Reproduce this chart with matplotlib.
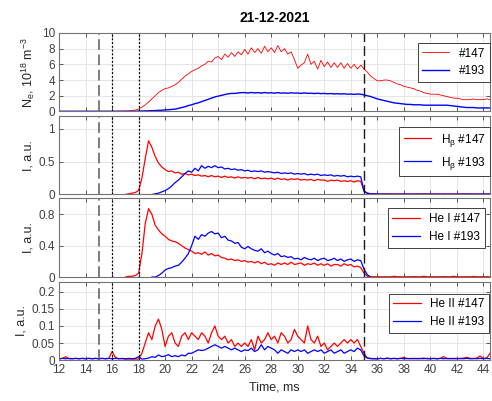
import numpy as np
from matplotlib import pyplot as plt

plt.rcParams['font.family'] = ['Liberation Sans', 'DejaVu Sans']
plt.rcParams['mathtext.default'] = 'regular'
plt.rcParams['font.size'] = 8

nan = np.nan
# time base, ms (0.25 ms step)
time_ms = np.round(np.arange(12, 44.51, 0.25), 2)

# electron density, 1e18 m^-3
ne147 = ([0.02]*12 +
         [0.02, 0.02, 0.03, 0.03, 0.03, 0.03, 0.04, 0.05, 0.06, 0.08, 0.12, 0.18,
          0.30, 0.55, 0.85, 1.20, 1.60, 2.00, 2.40, 2.70, 2.90, 3.00, 3.20, 3.40,
          3.70, 4.10, 4.50, 4.80, 5.10, 5.30, 5.50, 5.80, 6.00, 6.40, 6.30, 6.80,
          7.00, 6.60, 7.30, 6.90, 7.50, 7.00, 7.60, 7.20, 7.90, 7.30, 8.10, 7.50,
          8.00, 7.40, 8.30, 7.60, 8.10, 7.50, 8.40, 7.60, 8.00, 7.30, 7.60, 6.60,
          5.50, 5.90, 6.20, 7.30, 6.00, 6.40, 5.40, 6.50, 5.70, 6.30, 5.60, 6.20,
          5.60, 6.20, 5.50, 6.10, 5.50, 6.00, 5.40, 5.90, 5.40, 5.00, 4.50, 4.20,
          3.90, 3.90, 4.00, 4.00, 3.90, 3.70, 3.50, 3.40, 3.20, 3.10, 3.00, 2.90,
          2.70, 2.60, 2.40, 2.30, 2.20, 2.20, 2.20, 2.10, 2.00, 1.90, 1.80, 1.70,
          1.70, 1.60, 1.50, 1.50, 1.50, 1.60, 1.50, 1.50, 1.50, 1.60, 1.50])
ne193 = ([0.02]*24 +
         [0.05, 0.06, 0.07, 0.08, 0.10, 0.12, 0.14, 0.16, 0.20, 0.22, 0.26, 0.30,
          0.40, 0.50, 0.60, 0.75, 0.85, 1.00, 1.10, 1.25, 1.40, 1.55, 1.70, 1.85,
          1.95, 2.05, 2.15, 2.25, 2.30, 2.30, 2.35, 2.40, 2.40, 2.35, 2.42, 2.36,
          2.40, 2.34, 2.41, 2.35, 2.38, 2.33, 2.40, 2.34, 2.36, 2.32, 2.38, 2.33,
          2.35, 2.30, 2.36, 2.31, 2.33, 2.28, 2.32, 2.27, 2.30, 2.25, 2.28, 2.23,
          2.26, 2.22, 2.25, 2.20, 2.22, 2.18, 2.22, 2.20, 2.10, 2.00, 1.90, 1.75,
          1.60, 1.50, 1.40, 1.30, 1.20, 1.10, 1.05, 1.00, 0.95, 0.90, 0.90, 0.85,
          0.85, 0.85, 0.80, 0.80, 0.80, 0.80, 0.80, 0.80, 0.80, 0.80, 0.75, 0.70,
          0.65, 0.60, 0.55, 0.50, 0.50, 0.50, 0.45, 0.45, 0.45, 0.45, 0.45])

# H-beta intensity, a.u.
hb147 = ([nan]*20 +
         [0.00, 0.01, 0.02, 0.03, 0.06, 0.25, 0.55, 0.82, 0.72, 0.58, 0.48, 0.42,
          0.38, 0.35, 0.36, 0.33, 0.34, 0.31, 0.32, 0.30, 0.31, 0.29, 0.30, 0.28,
          0.29, 0.27, 0.29, 0.27, 0.28, 0.26, 0.28, 0.26, 0.27, 0.25, 0.27, 0.25,
          0.26, 0.25, 0.26, 0.24, 0.26, 0.24, 0.25, 0.24, 0.25, 0.23, 0.25, 0.23,
          0.24, 0.22, 0.24, 0.23, 0.24, 0.22, 0.23, 0.22, 0.23, 0.21, 0.23, 0.22,
          0.22, 0.20, 0.22, 0.21, 0.22, 0.20, 0.21, 0.20, 0.21, 0.19, 0.21, 0.20,
          0.05, 0.02, 0.01, 0.01] +
         [0.010, 0.005]*17 + [0.010])
hb193 = ([nan]*28 +
         [0.00, 0.01, 0.02, 0.04, 0.06, 0.09, 0.13, 0.18, 0.22, 0.27, 0.32, 0.36,
          0.34, 0.40, 0.36, 0.44, 0.40, 0.43, 0.41, 0.44, 0.41, 0.42, 0.39, 0.40,
          0.38, 0.39, 0.37, 0.38, 0.36, 0.37, 0.35, 0.36, 0.35, 0.36, 0.34, 0.35,
          0.34, 0.33, 0.34, 0.32, 0.33, 0.32, 0.33, 0.31, 0.32, 0.31, 0.32, 0.30,
          0.31, 0.30, 0.31, 0.29, 0.30, 0.29, 0.30, 0.28, 0.29, 0.28, 0.29, 0.27,
          0.28, 0.27, 0.28, 0.27, 0.05, 0.02, 0.01, 0.01] +
         [0.005, 0.007]*17 + [0.005])

# He I intensity, a.u.
he1_147 = ([nan]*20 +
           [0.00, 0.01, 0.01, 0.02, 0.05, 0.30, 0.68, 0.87, 0.80, 0.66, 0.60, 0.55,
            0.52, 0.48, 0.46, 0.45, 0.43, 0.40, 0.37, 0.35, 0.33, 0.30, 0.31, 0.29,
            0.32, 0.28, 0.30, 0.27, 0.28, 0.25, 0.24, 0.22, 0.23, 0.21, 0.22, 0.20,
            0.21, 0.19, 0.20, 0.18, 0.20, 0.17, 0.19, 0.16, 0.17, 0.15, 0.18, 0.16,
            0.18, 0.16, 0.19, 0.16, 0.17, 0.18, 0.15, 0.17, 0.16, 0.18, 0.15, 0.17,
            0.15, 0.17, 0.14, 0.16, 0.16, 0.14, 0.17, 0.15, 0.16, 0.13, 0.14, 0.12,
            0.05, 0.01, 0.005, 0.005] +
           [0.005, 0.004, 0.006, 0.005, 0.004, 0.010, 0.005, 0.004, 0.005]*3 +
           [0.005, 0.004, 0.008, 0.005, 0.004, 0.006, 0.005, 0.004])
he1_193 = ([nan]*28 +
           [0.00, 0.00, 0.02, 0.05, 0.09, 0.11, 0.12, 0.14, 0.15, 0.19, 0.24, 0.30,
            0.40, 0.52, 0.48, 0.54, 0.52, 0.56, 0.58, 0.55, 0.56, 0.50, 0.52, 0.47,
            0.46, 0.43, 0.44, 0.38, 0.36, 0.39, 0.36, 0.34, 0.33, 0.36, 0.31, 0.33,
            0.30, 0.28, 0.30, 0.26, 0.27, 0.25, 0.26, 0.23, 0.24, 0.22, 0.25, 0.23,
            0.22, 0.24, 0.21, 0.23, 0.24, 0.21, 0.22, 0.24, 0.21, 0.23, 0.20, 0.22,
            0.23, 0.20, 0.22, 0.21, 0.10, 0.03, 0.00, nan] +
           [nan]*35)

# He II intensity, a.u.
he2_147 = ([0.004, 0.005, 0.010, 0.004] + [0.004, 0.005]*6 +
           [0.025, 0.008, 0.004, 0.004, 0.003, 0.003, 0.003, 0.003,
            0.003, 0.020, 0.050, 0.080, 0.060, 0.100, 0.120, 0.090,
            0.040, 0.070, 0.080, 0.050, 0.040, 0.070, 0.080, 0.060,
            0.080, 0.070, 0.060, 0.080, 0.070, 0.050, 0.080, 0.100,
            0.070, 0.060, 0.070, 0.050, 0.060, 0.040, 0.050, 0.040,
            0.050, 0.040, 0.060, 0.030, 0.070, 0.050, 0.060, 0.080,
            0.060, 0.070, 0.050, 0.080, 0.070, 0.050, 0.060, 0.090,
            0.070, 0.060, 0.050, 0.100, 0.060, 0.050, 0.070, 0.040,
            0.050, 0.030, 0.040, 0.050, 0.040, 0.050, 0.060, 0.050,
            0.060, 0.050, 0.060, 0.040, 0.020, 0.006, 0.005, 0.004,
            0.004, 0.005, 0.004, 0.006, 0.004, 0.005, 0.004, 0.005,
            0.008, 0.004, 0.005, 0.004, 0.005, 0.004, 0.006, 0.004,
            0.004, 0.005, 0.004, 0.005, 0.010, 0.004, 0.005, 0.004,
            0.005, 0.004, 0.006, 0.008, 0.005, 0.004, 0.006, 0.012,
            0.005, 0.006, 0.020])
he2_193 = ([0.004, 0.005]*12 +
           [0.010, 0.003, 0.004, 0.006, 0.010, 0.008, 0.015, 0.010,
            0.012, 0.016, 0.010, 0.013, 0.010, 0.015, 0.012, 0.020,
            0.020, 0.025, 0.030, 0.028, 0.030, 0.035, 0.040, 0.045,
            0.040, 0.035, 0.040, 0.035, 0.030, 0.035, 0.030, 0.025,
            0.030, 0.028, 0.035, 0.025, 0.030, 0.045, 0.030, 0.040,
            0.035, 0.030, 0.020, 0.030, 0.025, 0.020, 0.030, 0.025,
            0.030, 0.025, 0.030, 0.020, 0.025, 0.030, 0.025, 0.030,
            0.020, 0.025, 0.030, 0.020, 0.025, 0.030, 0.020, 0.025,
            0.030, 0.025, 0.035, 0.030, 0.012, 0.006, 0.004, 0.004] +
           [0.004, 0.005]*17 + [0.004])

panels = [
    (ne147, ne193, ['#147', '#193'], 'N$_e$, 10$^{18}$ m$^{-3}$',
     (0, 10), [0, 2, 4, 6, 8, 10], ['0', '2', '4', '6', '8', '10'], (1.0, 0.873)),
    (hb147, hb193, [r'H$_\beta$ #147', r'H$_\beta$ #193'], 'I, a.u.',
     (0, 1.2), [0, 0.5, 1], ['0', '0.5', '1'], (1.0, 0.86)),
    (he1_147, he1_193, ['He I #147', 'He I #193'], 'I, a.u.',
     (0, 1.0), [0, 0.4, 0.8], ['0', '0.4', '0.8'], (0.988, 0.873)),
    (he2_147, he2_193, ['He II #147', 'He II #193'], 'I, a.u.',
     (0, 0.23), [0, 0.05, 0.1, 0.15, 0.2], ['0', '0.05', '0.1', '0.15', '0.2'], (0.998, 0.847)),
]
tops = [0.918, 0.711, 0.505, 0.298]
vlines_dash = [15, 35]
vlines_dot = [16, 18]

fig = plt.figure(figsize=(4.92, 4.01), dpi=100)
axes = []
for i, (y1, y2, labs, ylab, ylim, yt, ytl, lpos) in enumerate(panels):
    ax = fig.add_axes([0.12, tops[i] - 0.196, 0.876, 0.196])
    axes.append(ax)
    if i == 0:
        l1, = ax.plot(time_ms, y1, c='red', lw=0.6)
        l2, = ax.plot(time_ms, y2, c='blue', lw=1.0)
    else:
        l1, = ax.plot(time_ms, y1, c='red', lw=0.9)
        l2, = ax.plot(time_ms, y2, c='blue', lw=0.9)
    ax.axvline(vlines_dash[0], c='0.35', ls=(0, (7, 3)), lw=1.1)
    ax.axvline(vlines_dash[1], c='0.1', ls=(0, (7, 3)), lw=1.0)
    for v in vlines_dot:
        ax.axvline(v, c='k', ls=(0, (1.5, 1.5)), lw=0.9)
    ax.set_xlim(12, 44.5)
    ax.set_ylim(ylim)
    ax.set_yticks(yt)
    ax.set_yticklabels(ytl)
    ax.set_xticks(np.arange(12, 45, 2))
    ax.grid(True, color='0.88', lw=0.6)
    ax.set_axisbelow(True)
    ax.tick_params(direction='in', length=3, width=0.6, colors='0.25',
                   top=True, right=True, labelsize=8.5, pad=3)
    for s in ax.spines.values():
        s.set_color('0.45')
        s.set_linewidth(0.8)
    ax.set_ylabel(ylab, fontsize=9, color='0.15', labelpad=3)
    if i < 3:
        ax.tick_params(labelbottom=False)
    leg = ax.legend([l1, l2], labs, loc='upper right', bbox_to_anchor=lpos,
                    fancybox=False, framealpha=1, edgecolor='0.25',
                    fontsize=8.5, handlelength=2.3, borderaxespad=0)
    leg.get_frame().set_linewidth(0.7)

axes[-1].set_xlabel('Time, ms', fontsize=9, color='0.15')
axes[0].set_title('21-12-2021', fontsize=10, fontweight='bold', pad=8)

plt.savefig('out.png', dpi=100)
